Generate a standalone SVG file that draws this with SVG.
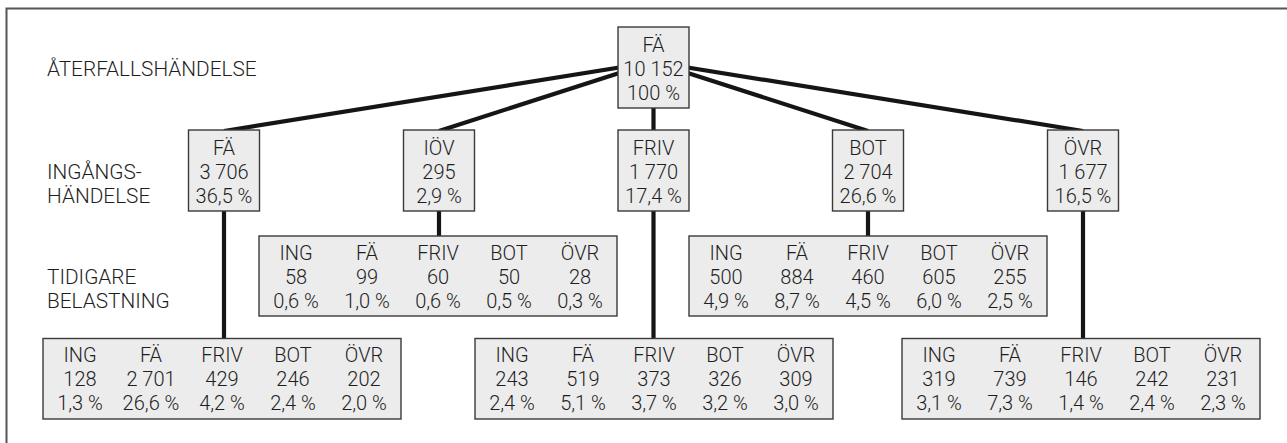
<svg xmlns="http://www.w3.org/2000/svg" width="1287" height="443" viewBox="0 0 1287 443">
<style>
text{font-family:Roboto,"Liberation Sans",Arial,sans-serif;font-weight:300;font-size:20px;fill:#1e1e1e;}
.lbl{font-size:20.8px;}
.c{text-anchor:middle;}
.box{fill:#ececec;stroke:#3a3a3a;stroke-width:1.4;}
.con{stroke:#151515;stroke-width:4.2;fill:none;stroke-linecap:butt;}
.frame{stroke:#555;stroke-width:2;fill:none;}
</style>
<rect width="1287" height="443" fill="#ffffff"/>
<path class="frame" d="M6.5,443 V8.5 H1287"/>
<g id="labels">
<text class="lbl" x="47" y="76">ÅTERFALLSHÄNDELSE</text>
<text class="lbl" x="47" y="179">INGÅNGS-</text>
<text class="lbl" x="47" y="203">HÄNDELSE</text>
<text class="lbl" x="47" y="284">TIDIGARE</text>
<text class="lbl" x="47" y="308">BELASTNING</text>
</g>
<g id="connectors">
<line class="con" x1="653.5" y1="62" x2="224" y2="131"/>
<line class="con" x1="653.5" y1="62" x2="439" y2="131"/>
<line class="con" x1="653.5" y1="62" x2="868" y2="131"/>
<line class="con" x1="653.5" y1="62" x2="1083" y2="131"/>
<line class="con" x1="653.5" y1="100" x2="653.5" y2="131"/>
<line class="con" x1="224" y1="205" x2="224" y2="339"/>
<line class="con" x1="439" y1="205" x2="439" y2="237"/>
<line class="con" x1="653.5" y1="205" x2="653.5" y2="339"/>
<line class="con" x1="868" y1="205" x2="868" y2="237"/>
<line class="con" x1="1083" y1="205" x2="1083" y2="339"/>
</g>
<g id="n-top">
<rect class="box" x="618" y="27" width="71" height="81"/>
<text class="c" x="653.5" y="52">FÄ</text>
<text class="c" x="653.5" y="76">10 152</text>
<text class="c" x="653.5" y="100">100 %</text>
</g>
<g id="n-fa">
<rect class="box" x="188.5" y="130" width="71" height="81"/>
<text class="c" x="224" y="155">FÄ</text>
<text class="c" x="224" y="179">3 706</text>
<text class="c" x="224" y="203">36,5 %</text>
</g>
<g id="n-iov">
<rect class="box" x="403.5" y="130" width="71" height="81"/>
<text class="c" x="439" y="155">IÖV</text>
<text class="c" x="439" y="179">295</text>
<text class="c" x="439" y="203">2,9 %</text>
</g>
<g id="n-friv">
<rect class="box" x="618" y="130" width="71" height="81"/>
<text class="c" x="653.5" y="155">FRIV</text>
<text class="c" x="653.5" y="179">1 770</text>
<text class="c" x="653.5" y="203">17,4 %</text>
</g>
<g id="n-bot">
<rect class="box" x="832.5" y="130" width="71" height="81"/>
<text class="c" x="868" y="155">BOT</text>
<text class="c" x="868" y="179">2 704</text>
<text class="c" x="868" y="203">26,6 %</text>
</g>
<g id="n-ovr">
<rect class="box" x="1047.5" y="130" width="71" height="81"/>
<text class="c" x="1083" y="155">ÖVR</text>
<text class="c" x="1083" y="179">1 677</text>
<text class="c" x="1083" y="203">16,5 %</text>
</g>
<g id="t-iov">
<rect class="box" x="259" y="236" width="358" height="80"/>
<text class="c" x="296" y="260">ING</text><text class="c" x="367" y="260">FÄ</text><text class="c" x="438" y="260">FRIV</text><text class="c" x="509" y="260">BOT</text><text class="c" x="580" y="260">ÖVR</text>
<text class="c" x="296" y="284">58</text><text class="c" x="367" y="284">99</text><text class="c" x="438" y="284">60</text><text class="c" x="509" y="284">50</text><text class="c" x="580" y="284">28</text>
<text class="c" x="296" y="308">0,6 %</text><text class="c" x="367" y="308">1,0 %</text><text class="c" x="438" y="308">0,6 %</text><text class="c" x="509" y="308">0,5 %</text><text class="c" x="580" y="308">0,3 %</text>
</g>
<g id="t-bot">
<rect class="box" x="689" y="236" width="358" height="80"/>
<text class="c" x="726" y="260">ING</text><text class="c" x="797" y="260">FÄ</text><text class="c" x="868" y="260">FRIV</text><text class="c" x="939" y="260">BOT</text><text class="c" x="1010" y="260">ÖVR</text>
<text class="c" x="726" y="284">500</text><text class="c" x="797" y="284">884</text><text class="c" x="868" y="284">460</text><text class="c" x="939" y="284">605</text><text class="c" x="1010" y="284">255</text>
<text class="c" x="726" y="308">4,9 %</text><text class="c" x="797" y="308">8,7 %</text><text class="c" x="868" y="308">4,5 %</text><text class="c" x="939" y="308">6,0 %</text><text class="c" x="1010" y="308">2,5 %</text>
</g>
<g id="t-fa">
<rect class="box" x="43" y="338.5" width="358" height="80.5"/>
<text class="c" x="80" y="362">ING</text><text class="c" x="151" y="362">FÄ</text><text class="c" x="222" y="362">FRIV</text><text class="c" x="293" y="362">BOT</text><text class="c" x="364" y="362">ÖVR</text>
<text class="c" x="80" y="386">128</text><text class="c" x="151" y="386">2 701</text><text class="c" x="222" y="386">429</text><text class="c" x="293" y="386">246</text><text class="c" x="364" y="386">202</text>
<text class="c" x="80" y="410">1,3 %</text><text class="c" x="151" y="410">26,6 %</text><text class="c" x="222" y="410">4,2 %</text><text class="c" x="293" y="410">2,4 %</text><text class="c" x="364" y="410">2,0 %</text>
</g>
<g id="t-friv">
<rect class="box" x="475" y="338.5" width="358" height="80.5"/>
<text class="c" x="512" y="362">ING</text><text class="c" x="583" y="362">FÄ</text><text class="c" x="654" y="362">FRIV</text><text class="c" x="725" y="362">BOT</text><text class="c" x="796" y="362">ÖVR</text>
<text class="c" x="512" y="386">243</text><text class="c" x="583" y="386">519</text><text class="c" x="654" y="386">373</text><text class="c" x="725" y="386">326</text><text class="c" x="796" y="386">309</text>
<text class="c" x="512" y="410">2,4 %</text><text class="c" x="583" y="410">5,1 %</text><text class="c" x="654" y="410">3,7 %</text><text class="c" x="725" y="410">3,2 %</text><text class="c" x="796" y="410">3,0 %</text>
</g>
<g id="t-ovr">
<rect class="box" x="902" y="338.5" width="358" height="80.5"/>
<text class="c" x="939" y="362">ING</text><text class="c" x="1010" y="362">FÄ</text><text class="c" x="1081" y="362">FRIV</text><text class="c" x="1152" y="362">BOT</text><text class="c" x="1223" y="362">ÖVR</text>
<text class="c" x="939" y="386">319</text><text class="c" x="1010" y="386">739</text><text class="c" x="1081" y="386">146</text><text class="c" x="1152" y="386">242</text><text class="c" x="1223" y="386">231</text>
<text class="c" x="939" y="410">3,1 %</text><text class="c" x="1010" y="410">7,3 %</text><text class="c" x="1081" y="410">1,4 %</text><text class="c" x="1152" y="410">2,4 %</text><text class="c" x="1223" y="410">2,3 %</text>
</g>
</svg>
